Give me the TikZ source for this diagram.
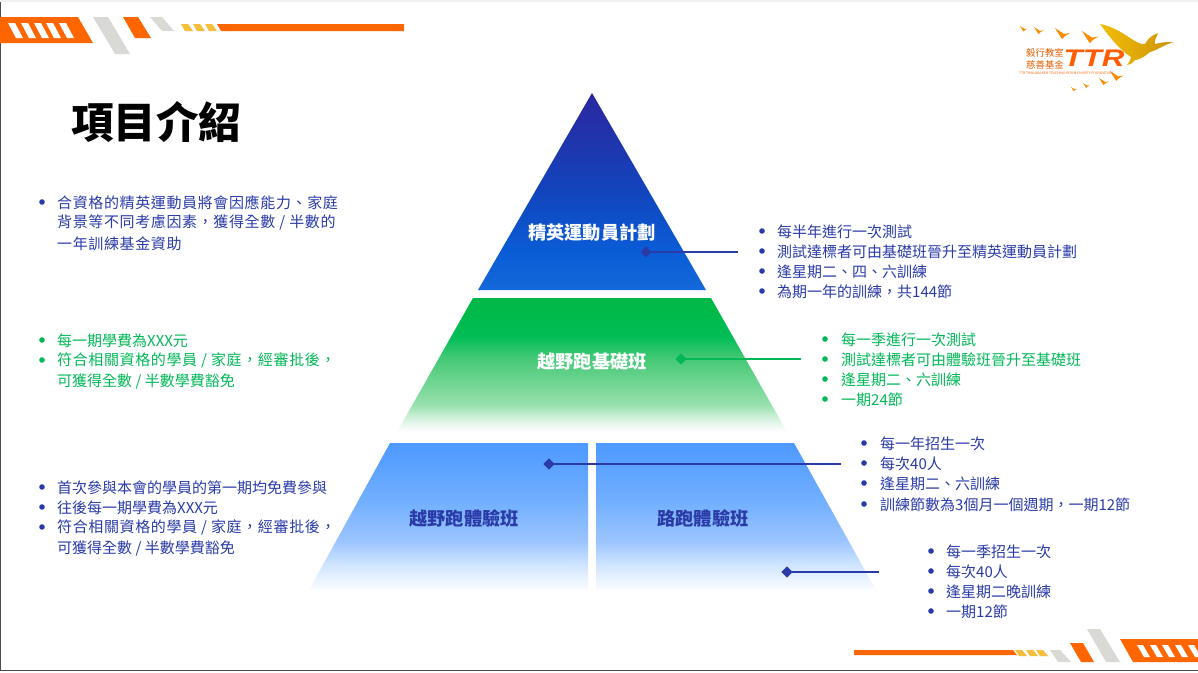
\documentclass[tikz,border=0pt]{standalone}
\usepackage{fontspec}
\setmainfont{Noto Sans CJK TC}
\newfontfamily\ttl{Noto Sans CJK TC}[UprightFont=* Black]
\newfontfamily\spaced{Noto Sans CJK TC}[LetterSpace=4.2]
\newfontfamily\ttrf{Liberation Sans}
\usetikzlibrary{shapes.geometric}
\definecolor{navy}{HTML}{2A3BA8}
\definecolor{grn}{HTML}{00B858}
\definecolor{org}{HTML}{FF6600}
\definecolor{gry}{HTML}{D9DAD6}
\definecolor{yel}{HTML}{F5BE3C}
\pgfdeclareverticalshading{apex}{100bp}{
 rgb(0bp)=(0.08,0.41,0.85);rgb(25bp)=(0.08,0.41,0.85);rgb(35bp)=(0.04,0.36,0.84);rgb(50bp)=(0.07,0.27,0.74);rgb(75bp)=(0.17,0.15,0.62);rgb(100bp)=(0.17,0.15,0.62)}
\pgfdeclareverticalshading{gfade}{100bp}{
 rgb(0bp)=(1,1,1);rgb(25bp)=(1,1,1);rgb(29bp)=(0.88,0.96,0.91);rgb(35bp)=(0.60,0.88,0.68);rgb(52bp)=(0.28,0.79,0.47);rgb(61bp)=(0,0.74,0.33);rgb(75bp)=(0,0.72,0.27);rgb(100bp)=(0,0.72,0.27)}
\pgfdeclareverticalshading{bfade}{100bp}{
 rgb(0bp)=(1,1,1);rgb(25bp)=(1,1,1);rgb(34bp)=(0.82,0.90,1);rgb(42bp)=(0.61,0.77,1);rgb(55bp)=(0.45,0.69,1);rgb(75bp)=(0.30,0.60,1);rgb(100bp)=(0.30,0.60,1)}
\tikzset{x=1pt,y=-1pt,
 bl/.style={anchor=west,font=\fontsize{15}{15}\selectfont,inner sep=0pt,text=#1},
 bl/.default=navy,
 dot/.style={circle,fill=#1,inner sep=0pt,minimum size=5.6pt},
 dot/.default=navy,
 lab/.style={font=\fontsize{18.2}{18.2}\selectfont\bfseries,inner sep=0pt},
 dia/.style={diamond,fill=#1,inner sep=0pt,minimum size=11.5pt},
 dia/.default=navy,
 lnk/.style={line width=2.4pt,draw=#1},
 lnk/.default=navy}
\newcommand{\bul}[5]{%
 \node[dot=\bcol] (#1d) at (#2,#4) {};
 \node[bl=\bcol] (#1) at (#3,#4+0.4) {#5};}
\newcommand{\cont}[4]{\node[bl=\bcol] (#1) at (#2,#3+0.4) {#4};}
\begin{document}
\begin{tikzpicture}
\useasboundingbox (0,0) rectangle (1198,672);
\fill[white] (0,0) rectangle (1198,672);
% frame
\draw[color=black!70,line width=1.2pt] (0.6,2) -- (0.6,670.4) -- (1198,670.4);
\fill[black!6] (0,0) rectangle (1198,1.5);
% top-left strip
\fill[org] (0,17) -- (78,17) -- (93,43) -- (0,43) -- cycle;
\foreach \x in {8,21,34,46,59}
  \fill[white] (\x,23) -- (\x+7,23) -- (\x+15,38) -- (\x+8,38) -- cycle;
\fill[gry] (93,17) -- (108,17) -- (130,54) -- (115,54) -- cycle;
\fill[org] (123,17) -- (138,17) -- (151,38) -- (135,38) -- cycle;
\fill[gry] (150,17) -- (162,17) -- (174,31) -- (162,31) -- cycle;
\foreach \x in {181,193,205}
  \fill[yel] (\x,24) -- (\x+7,24) -- (\x+12,31) -- (\x+4,31) -- cycle;
\fill[org] (217,24) -- (404,24) -- (404,31) -- (221,31) -- cycle;
% bottom-right strip
\fill[org] (854,650) -- (1013,650) -- (1017,655) -- (854,655) -- cycle;
\foreach \x in {1015,1026,1036}
  \fill[yel] (\x,650) -- (\x+7,650) -- (\x+12,656) -- (\x+4,656) -- cycle;
\fill[gry] (1050,650) -- (1060,650) -- (1071,662) -- (1058,662) -- cycle;
\fill[org] (1070,643) -- (1083,643) -- (1094,662) -- (1081,662) -- cycle;
\fill[gry] (1087,629) -- (1100,629) -- (1120,662) -- (1106,662) -- cycle;
\fill[org] (1120,639) -- (1198,639) -- (1198,662) -- (1133,662) -- cycle;
\foreach \x in {1137,1150,1162,1175,1188}
  \fill[white] (\x,645) -- (\x+6,645) -- (\x+13,657) -- (\x+7,657) -- cycle;
% logo
\foreach \a/\b/\s in {1020/26/.5,1034/27/.65,1055/28/1,1082/31/1.1,1110/71/.9,1099/78/.65,1083/83/.45,1071/87/.4}
  \fill[org!75!yellow] (\a,\b) -- ++(9*\s,6*\s) -- ++(6*\s,-1*\s) -- ++(-5*\s,3*\s) -- ++(-3*\s,3*\s) -- ++(-2*\s,-3*\s) -- cycle;
\shade[left color=yellow!60!orange!80!brown,right color=yellow!45!orange!80!black] (1100,24) .. controls (1122,28) and (1136,46) .. (1145,44) .. controls (1148,38) and (1153,35) .. (1158,33) .. controls (1156,38) and (1154,41) .. (1155,44) .. controls (1162,42) and (1168,42) .. (1174,42) .. controls (1165,44) and (1158,50) .. (1150,52) .. controls (1143,58) and (1138,60) .. (1135,60) .. controls (1133,63) and (1131,64) .. (1127,65) .. controls (1130,61) and (1131,59) .. (1131,57) .. controls (1120,50) and (1110,38) .. cycle;
\node[inner sep=0pt,text=org!90!black,font=\fontsize{9.4}{11.4}\selectfont,align=center] (logoa) at (1045,59) {毅行教室\\慈善基金};
\node[inner sep=0pt,text=org!90!red,font=\ttrf\bfseries\itshape\fontsize{24}{24}\selectfont] (logob) at (1094,58) {\scalebox{1.3}[1]{TTR}};
\node[inner sep=0pt,text=org,font=\fontsize{3.4}{3.4}\selectfont] (logoc) at (1066,73) {TTR TRAILWALKER TEACHING ROOM CHARITY FOUNDATION};
% title
\node[inner sep=0pt,font=\fontsize{42.5}{42.5}\selectfont\ttl,text=black] (title) at (156,122) {項目介紹};
% pyramid
\shade[shading=apex] (592,93) -- (706,290) -- (478,290) -- cycle;
\shade[shading=gfade] (473,298) -- (711,298) -- (787,432) -- (397,432) -- cycle;
\shade[shading=bfade] (390,443) -- (588,443) -- (588,592) -- (308,592) -- cycle;
\shade[shading=bfade] (596,443) -- (794,443) -- (877,592) -- (596,592) -- cycle;
\node[lab,text=white] (elite) at (592,233) {精英運動員計劃};
\node[lab,text=white] (basic) at (592,362) {越野跑基礎班};
\node[lab,text=navy] (trial) at (464,518) {越野跑體驗班};
\node[lab,text=navy] (road) at (703,518) {路跑體驗班};
% connectors
\node[dia] (da) at (646,252) {};
\coordinate (ea) at (738,252);
\draw[lnk] (da.center) -- (ea);
\node[dia=grn] (db) at (681,359) {};
\coordinate (eb) at (801,359);
\draw[lnk=grn] (db.center) -- (eb);
\node[dia] (dc) at (549,464) {};
\coordinate (ec) at (841,464);
\draw[lnk] (dc.center) -- (ec);
\node[dia] (dd) at (787,572) {};
\coordinate (ed) at (879,572);
\draw[lnk] (dd.center) -- (ed);
% left text
\def\bcol{navy}
\bul{l1}{42}{57}{202}{\spaced 合資格的精英運動員將會因應能力、家庭}
\cont{l1b}{57}{222}{\spaced 背景等不同考慮因素，獲得全數 / 半數的}
\cont{l1c}{57}{243}{\spaced 一年訓練基金資助}
\def\bcol{grn}
\bul{l2}{42}{57}{340}{每一期學費為XXX元}
\bul{l3}{42}{57}{360}{\spaced 符合相關資格的學員 / 家庭，經審批後，}
\cont{l3b}{57}{381}{可獲得全數 / 半數學費豁免}
\def\bcol{navy}
\bul{l4}{42}{57}{487}{首次參與本會的學員的第一期均免費參與}
\bul{l5}{42}{57}{507}{往後每一期學費為XXX元}
\bul{l6}{42}{57}{527}{\spaced 符合相關資格的學員 / 家庭，經審批後，}
\cont{l6b}{57}{548}{可獲得全數 / 半數學費豁免}
% right text
\bul{a1}{762}{777}{231}{每半年進行一次測試}
\bul{a2}{762}{777}{251}{測試達標者可由基礎班晉升至精英運動員計劃}
\bul{a3}{762}{777}{271}{逢星期二、四、六訓練}
\bul{a4}{762}{777}{291}{為期一年的訓練，共144節}
\def\bcol{grn}
\bul{b1}{825}{841}{339}{每一季進行一次測試}
\bul{b2}{825}{841}{359}{測試達標者可由體驗班晉升至基礎班}
\bul{b3}{825}{841}{379}{逢星期二、六訓練}
\bul{b4}{825}{841}{399}{一期24節}
\def\bcol{navy}
\bul{c1}{864}{880}{443}{每一年招生一次}
\bul{c2}{864}{880}{463}{每次40人}
\bul{c3}{864}{880}{483}{逢星期二、六訓練}
\bul{c4}{864}{880}{504}{訓練節數為3個月一個週期，一期12節}
\bul{d1}{931}{946}{551}{每一季招生一次}
\bul{d2}{931}{946}{571}{每次40人}
\bul{d3}{931}{946}{591}{逢星期二晚訓練}
\bul{d4}{931}{946}{611}{一期12節}
\end{tikzpicture}
\end{document}
